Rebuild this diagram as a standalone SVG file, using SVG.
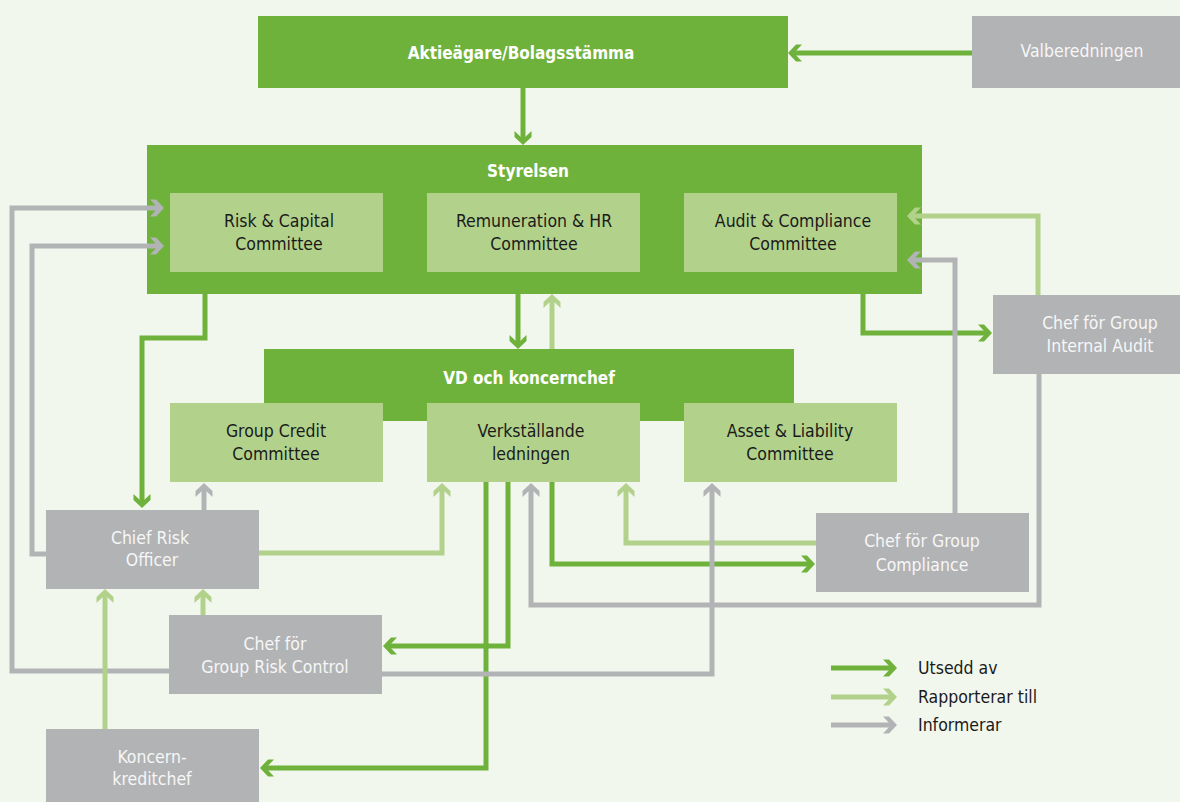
<svg xmlns="http://www.w3.org/2000/svg" width="1180" height="802" viewBox="0 0 1180 802">
<style>
.dk{fill:#6fb23b}
.lt{fill:#b2d28c}
.gr{fill:#b2b3b5}
text{font-family:"DejaVu Sans Condensed","Liberation Sans Narrow","Liberation Sans",sans-serif;font-stretch:condensed;font-size:17.5px;text-anchor:middle}
.t{font-weight:bold;fill:#ffffff;font-size:17px}
.k{fill:#1a1a1a}
.w{fill:#f7f7f7}
.leg{text-anchor:start;fill:#1a1a1a}
.c{fill:none;stroke-width:5;stroke-linejoin:miter;stroke-linecap:butt}
.cd{stroke:#6fb23b}
.cl{stroke:#b2d28c}
.cg{stroke:#b2b3b5}
</style>
<defs>
<marker id="ad" markerUnits="userSpaceOnUse" viewBox="-15 -10 20 20" refX="-3" refY="0" markerWidth="20" markerHeight="20" orient="auto"><polygon points="0,0 -8,-8.5 -14,-8.5 -6,0 -14,8.5 -8,8.5" fill="#6fb23b"/></marker>
<marker id="al" markerUnits="userSpaceOnUse" viewBox="-15 -10 20 20" refX="-3" refY="0" markerWidth="20" markerHeight="20" orient="auto"><polygon points="0,0 -8,-8.5 -14,-8.5 -6,0 -14,8.5 -8,8.5" fill="#b2d28c"/></marker>
<marker id="ag" markerUnits="userSpaceOnUse" viewBox="-15 -10 20 20" refX="-3" refY="0" markerWidth="20" markerHeight="20" orient="auto"><polygon points="0,0 -8,-8.5 -14,-8.5 -6,0 -14,8.5 -8,8.5" fill="#b2b3b5"/></marker>
</defs>
<rect width="1180" height="802" fill="#f2f7ee"/>

<g id="aktieagare"><rect class="dk" x="258" y="16" width="530" height="72"/><text class="t" x="521" y="59">Aktieägare/Bolagsstämma</text></g>
<g id="valberedningen"><rect class="gr" x="972" y="16" width="208" height="72"/><text class="w" x="1082" y="57">Valberedningen</text></g>

<g id="styrelsen"><rect class="dk" x="147" y="145" width="775" height="149"/><text class="t" x="528" y="177">Styrelsen</text></g>
<g id="risk-capital"><rect class="lt" x="170" y="193" width="213" height="79"/><text class="k" x="279" y="227">Risk &amp; Capital</text><text class="k" x="279" y="250">Committee</text></g>
<g id="remuneration"><rect class="lt" x="427" y="193" width="213" height="79"/><text class="k" x="534" y="227">Remuneration &amp; HR</text><text class="k" x="534" y="250">Committee</text></g>
<g id="audit-compliance"><rect class="lt" x="684" y="193" width="213" height="79"/><text class="k" x="793" y="227">Audit &amp; Compliance</text><text class="k" x="793" y="250">Committee</text></g>

<g id="vd"><rect class="dk" x="264" y="349" width="530" height="72"/><text class="t" x="529" y="384">VD och koncernchef</text></g>
<g id="group-credit"><rect class="lt" x="170" y="403" width="213" height="79"/><text class="k" x="276" y="437">Group Credit</text><text class="k" x="276" y="460">Committee</text></g>
<g id="verkstallande"><rect class="lt" x="427" y="403" width="213" height="79"/><text class="k" x="531" y="437">Verkställande</text><text class="k" x="531" y="460">ledningen</text></g>
<g id="asset-liability"><rect class="lt" x="684" y="403" width="213" height="79"/><text class="k" x="790" y="437">Asset &amp; Liability</text><text class="k" x="790" y="460">Committee</text></g>

<g id="internal-audit"><rect class="gr" x="993" y="295" width="187" height="79"/><text class="w" x="1100" y="329">Chef för Group</text><text class="w" x="1100" y="352">Internal Audit</text></g>
<g id="cro"><rect class="gr" x="46" y="510" width="213" height="79"/><text class="w" x="150" y="544">Chief Risk</text><text class="w" x="152" y="566">Officer</text></g>
<g id="compliance"><rect class="gr" x="816" y="513" width="213" height="79"/><text class="w" x="922" y="547">Chef för Group</text><text class="w" x="922" y="571">Compliance</text></g>
<g id="risk-control"><rect class="gr" x="169" y="615" width="213" height="79"/><text class="w" x="275" y="650">Chef för</text><text class="w" x="275" y="673">Group Risk Control</text></g>
<g id="koncernkreditchef"><rect class="gr" x="46" y="729" width="213" height="73"/><text class="w" x="152" y="763">Koncern-</text><text class="w" x="152" y="785">kreditchef</text></g>

<g id="connectors">
<path class="c cd" marker-end="url(#ad)" d="M972,53 H791"/>
<path class="c cd" marker-end="url(#ad)" d="M523,88 V142"/>
<path class="c cd" marker-end="url(#ad)" d="M205,294 V338 H142 V505"/>
<path class="c cd" marker-end="url(#ad)" d="M518,294 V346"/>
<path class="c cd" marker-end="url(#ad)" d="M486,482 V768 H263"/>
<path class="c cd" marker-end="url(#ad)" d="M508,482 V646 H386"/>
<path class="c cd" marker-end="url(#ad)" d="M552,482 V564 H812"/>
<path class="c cd" marker-end="url(#ad)" d="M863,294 V333 H989"/>
<path class="c cl" marker-end="url(#al)" d="M259,553 H442 V486"/>
<path class="c cl" marker-end="url(#al)" d="M552,349 V297"/>
<path class="c cl" marker-end="url(#al)" d="M816,543 H626 V486"/>
<path class="c cl" marker-end="url(#al)" d="M1038,295 V216 H910"/>
<path class="c cl" marker-end="url(#al)" d="M203,615 V592"/>
<path class="c cg" marker-end="url(#ag)" d="M169,671 H12 V208 H161"/>
<path class="c cg" marker-end="url(#ag)" d="M46,554 H32 V246 H161"/>
<path class="c cg" marker-end="url(#ag)" d="M204,510 V486"/>
<path class="c cg" marker-end="url(#ag)" d="M1039,374 V605 H531 V486"/>
<path class="c cg" marker-end="url(#ag)" d="M382,674 H712 V486"/>
<path class="c cg" marker-end="url(#ag)" d="M955,513 V260 H910"/>
<path class="c cl" marker-end="url(#al)" d="M105,729 V592"/>
</g>

<g id="legend">
<path class="c cd" marker-end="url(#ad)" d="M831,668 H894"/>
<path class="c cl" marker-end="url(#al)" d="M831,697 H894"/>
<path class="c cg" marker-end="url(#ag)" d="M831,725 H894"/>
<text class="leg" x="918" y="674">Utsedd av</text>
<text class="leg" x="918" y="703">Rapporterar till</text>
<text class="leg" x="918" y="731">Informerar</text>
</g>
</svg>
